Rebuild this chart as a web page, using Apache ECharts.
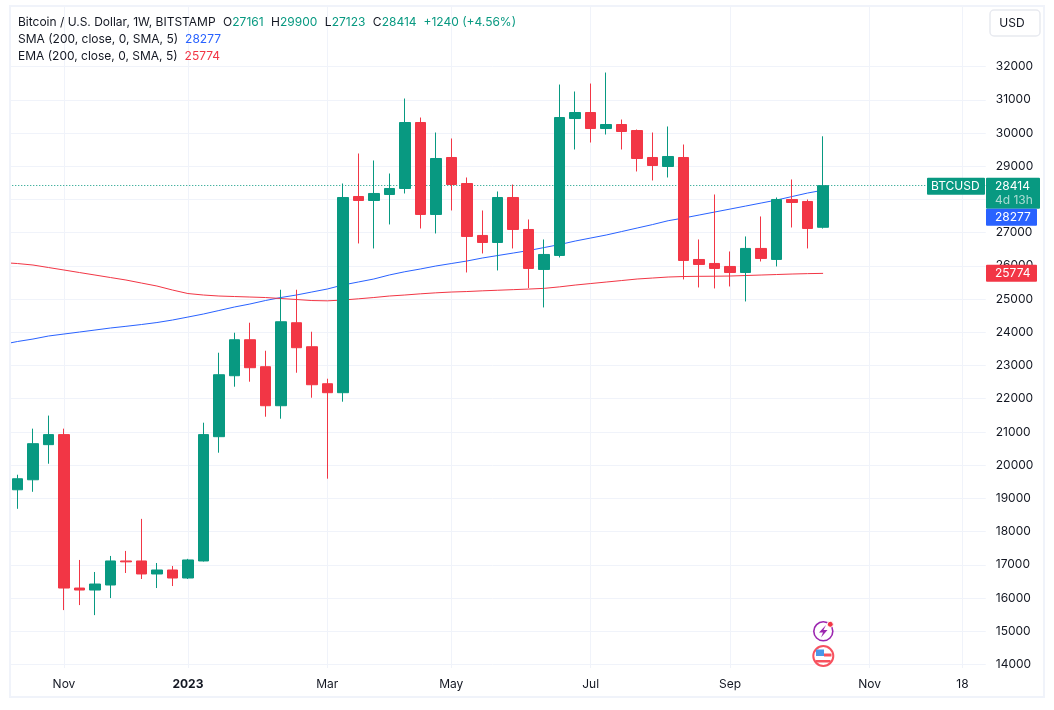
<!DOCTYPE html>
<html>
<head>
<meta charset="utf-8">
<title>BTCUSD 1W</title>
<script src="https://cdn.jsdelivr.net/npm/echarts@6/dist/echarts.min.js"></script>
<style>
  html, body { margin: 0; padding: 0; background: #fff; }
  #chart { width: 1054px; height: 710px; }
</style>
</head>
<body>
<div id="chart"></div>
<script>
// weekly bars; first date is only there so the moving averages run off the left edge,
// dates after 2023-10-16 are the empty space on the right
const dates = [
  "2022-10-10", "2022-10-17", "2022-10-24", "2022-10-31", "2022-11-07", "2022-11-14", "2022-11-21", "2022-11-28",
  "2022-12-05", "2022-12-12", "2022-12-19", "2022-12-26", "2023-01-02", "2023-01-09", "2023-01-16", "2023-01-23",
  "2023-01-30", "2023-02-06", "2023-02-13", "2023-02-20", "2023-02-27", "2023-03-06", "2023-03-13", "2023-03-20",
  "2023-03-27", "2023-04-03", "2023-04-10", "2023-04-17", "2023-04-24", "2023-05-01", "2023-05-08", "2023-05-15",
  "2023-05-22", "2023-05-29", "2023-06-05", "2023-06-12", "2023-06-19", "2023-06-26", "2023-07-03", "2023-07-10",
  "2023-07-17", "2023-07-24", "2023-07-31", "2023-08-07", "2023-08-14", "2023-08-21", "2023-08-28", "2023-09-04",
  "2023-09-11", "2023-09-18", "2023-09-25", "2023-10-02", "2023-10-09", "2023-10-16", "2023-10-23", "2023-10-30",
  "2023-11-06", "2023-11-13", "2023-11-20", "2023-11-27", "2023-12-04", "2023-12-11", "2023-12-18", "2023-12-25",
];

const opens = [
  null, 19260, 19561, 20618, 20920, 16302, 16242, 16393, 17117, 17117, 16725, 16845, 16604, 17117, 20858, 22693, 23776,
  22964, 21790, 24288, 23566, 22452, 22182, 28088, 27968, 28148, 28329, 30315, 27547, 29262, 28479, 26915, 26704,
  28058, 27095, 25892, 26313, 30435, 30616, 30134, 30255, 30074, 29262, 28991, 29262, 26192, 26072, 25982, 25801,
  26524, 26193, 27998, 27938, 27161,
];
const closes = [
  null, 19592, 20648, 20920, 16302, 16242, 16423, 17117, 17090, 16725, 16845, 16604, 17147, 20920, 22723, 23776, 22934,
  21790, 24318, 23536, 22422, 22182, 28058, 27968, 28179, 28329, 30315, 27547, 29232, 28449, 26885, 26704, 28058,
  27095, 25922, 26343, 30465, 30616, 30134, 30255, 30044, 29232, 29021, 29292, 26162, 26042, 25922, 25801, 26524,
  26223, 27998, 27908, 27125, 28414,
];
const lows = [
  null, 18687, 19199, 20044, 15638, 15789, 15487, 16000, 16755, 16574, 16302, 16362, 16574, 17100, 20376, 22362, 22513,
  21459, 21399, 22783, 22031, 19594, 21911, 26674, 26524, 27246, 28179, 27125, 26975, 27667, 25801, 26373, 25862,
  26524, 25331, 24748, 26253, 29503, 29713, 29954, 29503, 28841, 28570, 28660, 25591, 25350, 25320, 25380, 24929,
  26132, 25982, 27155, 26524, 27123,
];
const highs = [
  null, 19713, 21100, 21493, 21100, 17147, 16785, 17268, 17419, 18384, 17056, 16966, 17180, 21279, 23385, 23987, 24288,
  23445, 25281, 25281, 24017, 22603, 28479, 29382, 29172, 28780, 31037, 30465, 30014, 29834, 28660, 27667, 28239,
  28449, 27396, 26794, 31458, 31248, 31488, 31819, 30405, 30104, 30014, 30195, 29653, 26794, 28148, 26433, 26885,
  27487, 28058, 28600, 27998, 29900,
];

const smaValues = [
  23632, 23723, 23797, 23888, 23948, 24008, 24068, 24129, 24180, 24234, 24294, 24369, 24459, 24550, 24655, 24761, 24851,
  24956, 25047, 25122, 25213, 25303, 25423, 25514, 25604, 25725, 25823, 25905, 25995, 26070, 26145, 26236, 26311,
  26386, 26461, 26552, 26642, 26747, 26838, 26928, 27033, 27139, 27244, 27359, 27440, 27530, 27620, 27710, 27800,
  27891, 27981, 28087, 28192, 28277,
];
const emaValues = [
  26100, 26070, 26025, 25950, 25875, 25799, 25724, 25649, 25574, 25483, 25393, 25273, 25167, 25122, 25092, 25077, 25062,
  25047, 25017, 24987, 24956, 24947, 24971, 25008, 25047, 25092, 25122, 25158, 25188, 25212, 25227, 25248, 25266,
  25284, 25302, 25323, 25368, 25422, 25468, 25513, 25558, 25604, 25634, 25664, 25679, 25685, 25688, 25694, 25709,
  25724, 25739, 25754, 25766, 25774,
];

const tickDates = ["2022-11-07", "2023-01-02", "2023-03-06", "2023-05-01", "2023-07-03", "2023-09-04", "2023-11-06", "2023-12-18"];
const tickLabels = ["Nov", "2023", "Mar", "May", "Jul", "Sep", "Nov", "18"];
const priceTicks = [14000, 15000, 16000, 17000, 18000, 19000, 20000, 21000, 22000, 23000, 24000, 25000, 26000, 27000, 28000, 29000, 30000, 31000, 32000];

const lastClose = 28414;
const lastSma = 28277;
const lastEma = 25774;

const UP = "#089981";
const DOWN = "#f23645";
const BLUE = "#2962ff";
const GRID = "#f0f3fa";
const TEXT = "#131722";
const FONT = "Inter, 'Noto Sans', sans-serif";

const candleData = opens.map((o, i) => (o === null ? ["-", "-", "-", "-"] : [o, closes[i], lows[i], highs[i]]));

function tag(x, y, w, h, fill, label, textX) {
  return [
    { type: "rect", z: 120, silent: true, shape: { x, y, width: w, height: h, r: 1 }, style: { fill } },
    {
      type: "text", z: 121, silent: true,
      style: { x: textX, y: y + 8.5, text: label, fill: "#fff", font: `12px ${FONT}`, verticalAlign: "middle" },
    },
  ];
}

const legendRich = {
  k: { fill: TEXT, font: `12px ${FONT}` },
  p: { fill: TEXT, font: `12px ${FONT}`, padding: [0, 0, 0, 7.5] },
  g: { fill: UP, font: `12px ${FONT}` },
  q: { fill: UP, font: `12px ${FONT}`, padding: [0, 0, 0, 7] },
  b: { fill: BLUE, font: `12px ${FONT}`, padding: [0, 0, 0, 7] },
  r: { fill: DOWN, font: `12px ${FONT}`, padding: [0, 0, 0, 7] },
};

function legendLine(y, text) {
  return {
    type: "text", z: 110, silent: true,
    style: { x: 18, y, text, rich: legendRich, verticalAlign: "middle" },
  };
}

const staticGraphics = [
  // cover what runs left of the frame
  { type: "rect", z: 100, silent: true, shape: { x: 0, y: 0, width: 10, height: 710 }, style: { fill: "#fff" } },
  { type: "rect", z: 101, silent: true, shape: { x: 10, y: 6, width: 1034, height: 691 }, style: { fill: null, stroke: GRID, lineWidth: 2 } },

  legendLine(22, "{k|Bitcoin / U.S. Dollar, 1W, BITSTAMP}{p|O}{g|27161}{p|H}{g|29900}{p|L}{g|27123}{p|C}{g|28414}{q|+1240 (+4.56%)}"),
  legendLine(39, "{k|SMA (200, close, 0, SMA, 5)}{b|28277}"),
  legendLine(56, "{k|EMA (200, close, 0, SMA, 5)}{r|25774}"),

  // currency button
  { type: "rect", z: 110, silent: true, shape: { x: 990, y: 10, width: 50, height: 26, r: 4 }, style: { fill: "#fff", stroke: "#e8eaf0", lineWidth: 1.5 } },
  { type: "text", z: 111, silent: true, style: { x: 1012, y: 23, text: "USD", fill: TEXT, font: `12px ${FONT}`, align: "center", verticalAlign: "middle" } },

  // lightning badge
  { type: "circle", z: 110, silent: true, shape: { cx: 823.3, cy: 631.3, r: 9.5 }, style: { fill: "#fff", stroke: "#9c27b0", lineWidth: 1.6 } },
  { type: "polygon", z: 111, silent: true, shape: { points: [[826, 625], [819, 632.5], [823, 632.5], [821, 637.5], [827.5, 630], [823.5, 630]] }, style: { fill: "#9c27b0" } },
  { type: "circle", z: 112, silent: true, shape: { cx: 830.3, cy: 624.3, r: 3 }, style: { fill: DOWN, stroke: "#fff", lineWidth: 1 } },

  // US flag badge
  { type: "circle", z: 110, silent: true, shape: { cx: 823.3, cy: 656, r: 10 }, style: { fill: "#fff", stroke: "#f7525f", lineWidth: 2 } },
  { type: "rect", z: 111, silent: true, shape: { x: 816, y: 649.5, width: 8, height: 6.5 }, style: { fill: "#4a97e8" } },
  { type: "rect", z: 111, silent: true, shape: { x: 824, y: 653.5, width: 7.5, height: 3 }, style: { fill: "#f7525f" } },
  { type: "rect", z: 111, silent: true, shape: { x: 816, y: 660, width: 14.5, height: 2.5 }, style: { fill: "#f7525f" } },
];

const chart = echarts.init(document.getElementById("chart"), null, { renderer: "canvas" });

const option = {
  animation: false,
  backgroundColor: "#fff",
  textStyle: { fontFamily: FONT },
  grid: { left: -5.75, top: 7, width: 991.5, height: 661, outerBoundsMode: "none" },
  xAxis: {
    type: "category",
    data: dates,
    boundaryGap: true,
    axisLine: { show: false },
    axisTick: { show: false, alignWithLabel: true, interval: (i, v) => tickDates.includes(v) },
    splitLine: {
      show: true,
      alignWithLabel: true,
      interval: (i, v) => tickDates.includes(v),
      lineStyle: { color: GRID, width: 1 },
    },
    axisLabel: {
      interval: (i, v) => tickDates.includes(v),
      margin: 10,
      color: TEXT,
      fontSize: 12,
      fontFamily: FONT,
      formatter: (v) => {
        const label = tickLabels[tickDates.indexOf(v)];
        return label === "2023" ? `{year|${label}}` : label;
      },
      rich: { year: { fontSize: 12, fontWeight: "bold", color: TEXT, fontFamily: FONT } },
    },
  },
  yAxis: {
    type: "value",
    position: "right",
    min: 13895,
    max: 33792,
    axisLine: { show: false },
    axisTick: { show: false, customValues: priceTicks },
    splitLine: { show: true, lineStyle: { color: GRID, width: 1 } },
    axisLabel: { customValues: priceTicks, margin: 10, color: TEXT, fontSize: 12, fontFamily: FONT, formatter: (v) => String(v) },
  },
  series: [
    {
      // only carries the dotted last-price line, under the candles
      type: "line",
      z: 1,
      data: [],
      silent: true,
      markLine: {
        silent: true,
        symbol: "none",
        animation: false,
        label: { show: false },
        lineStyle: { color: UP, type: [1, 2], width: 1 },
        data: [{ yAxis: lastClose }],
      },
    },
    { name: "SMA", type: "line", z: 2, data: smaValues, showSymbol: false, silent: true, lineStyle: { color: BLUE, width: 1 } },
    { name: "EMA", type: "line", z: 2, data: emaValues, showSymbol: false, silent: true, lineStyle: { color: DOWN, width: 1 } },
    {
      name: "BTCUSD",
      type: "candlestick",
      z: 5,
      data: candleData,
      barWidth: 11,
      silent: true,
      itemStyle: { color: UP, color0: DOWN, borderColor: UP, borderColor0: DOWN, borderWidth: 1 },
    },
  ],
  graphic: staticGraphics,
};

chart.setOption(option);

// price tags follow the price axis
const yClose = chart.convertToPixel({ yAxisIndex: 0 }, lastClose);
const yEma = chart.convertToPixel({ yAxisIndex: 0 }, lastEma);

const closeTop = yClose - 8;
const tagGraphics = [
  ...tag(927, closeTop, 58, 17, UP, "BTCUSD", 931),
  { type: "rect", z: 120, silent: true, shape: { x: 986, y: closeTop, width: 54, height: 31, r: 1 }, style: { fill: UP } },
  { type: "text", z: 121, silent: true, style: { x: 995, y: closeTop + 8.5, text: String(lastClose), fill: "#fff", font: `12px ${FONT}`, verticalAlign: "middle" } },
  { type: "text", z: 121, silent: true, style: { x: 995, y: closeTop + 22.5, text: "4d 13h", fill: "rgba(255,255,255,0.65)", font: `12px ${FONT}`, verticalAlign: "middle" } },
  ...tag(986, closeTop + 31, 51, 17, BLUE, String(lastSma), 995),
  ...tag(986, yEma - 8.5, 51, 17, DOWN, String(lastEma), 995),
];

chart.setOption({ graphic: [...staticGraphics, ...tagGraphics] });
</script>
</body>
</html>
